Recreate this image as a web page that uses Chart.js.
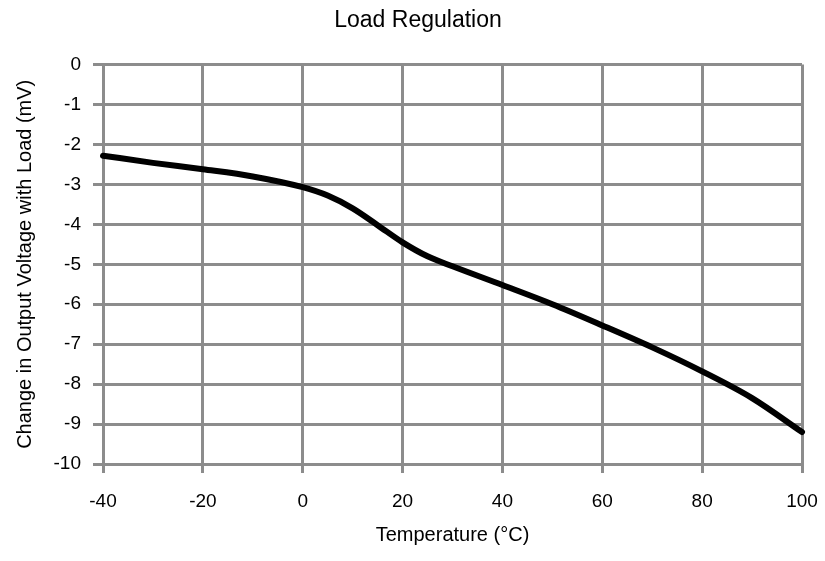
<!DOCTYPE html>
<html>
<head>
<meta charset="utf-8">
<script src="https://cdn.jsdelivr.net/npm/chart.js@4"></script>
<style>
  html, body { margin: 0; padding: 0; background: #fff; }
  #wrap { width: 825px; height: 561px; }
</style>
</head>
<body>
<div id="wrap"><canvas id="loadChart" width="825" height="561"></canvas></div>
<script>
// valeurs
const temperatures = [-40, -30, -20, -10, 0, 5, 10, 15, 20, 25, 30, 40, 50, 60, 70, 80, 90, 100];
const deltaVout = [-2.28, -2.46, -2.62, -2.8, -3.07, -3.28, -3.6, -4.02, -4.45, -4.8, -5.05, -5.52, -6.0, -6.53, -7.08, -7.68, -8.35, -9.2];

const xTicks = [-40, -20, 0, 20, 40, 60, 80, 100];
const yTicks = [0, -1, -2, -3, -4, -5, -6, -7, -8, -9, -10];

const gridColor = "#8c8c8c";
const fontFamily = "'Liberation Sans', Arial, sans-serif";

const points = temperatures.map((t, i) => ({ x: t, y: deltaVout[i] }));

const ctx = document.getElementById("loadChart").getContext("2d");

new Chart(ctx, {
  type: "line",
  data: {
    datasets: [
      {
        label: "Load Regulation",
        data: points,
        borderColor: "#000",
        borderWidth: 6,
        borderCapStyle: "round",
        borderJoinStyle: "round",
        cubicInterpolationMode: "monotone",
        pointRadius: 0,
        fill: false,
        clip: false,
      },
    ],
  },
  options: {
    responsive: false,
    animation: false,
    // marge gauche pour decaler le titre comme sur l'original
    layout: { padding: { left: 34, right: 23, top: 0, bottom: 0 } },
    scales: {
      x: {
        type: "linear",
        min: -40,
        max: 100,
        afterBuildTicks: (scale) => {
          scale.ticks = xTicks.map((v) => ({ value: v }));
        },
        afterFit: (scale) => {
          scale.height = 97;
          // pas de marge auto pour le label "100"
          scale.paddingLeft = 0;
          scale.paddingRight = 0;
        },
        ticks: {
          color: "#000",
          padding: 17,
          font: { family: fontFamily, size: 19 },
          maxRotation: 0,
        },
        grid: { color: gridColor, lineWidth: 3, tickLength: 9, tickColor: gridColor },
        border: { color: gridColor, width: 3 },
        title: {
          display: true,
          text: "Temperature (°C)",
          color: "#000",
          font: { family: fontFamily, size: 20 },
          padding: { top: 4, bottom: 14 },
        },
      },
      y: {
        type: "linear",
        min: -10,
        max: 0,
        afterBuildTicks: (scale) => {
          scale.ticks = yTicks.map((v) => ({ value: v }));
        },
        afterFit: (scale) => {
          scale.width = 69;
        },
        ticks: {
          color: "#000",
          padding: 12,
          font: { family: fontFamily, size: 19 },
        },
        grid: { color: gridColor, lineWidth: 3, tickLength: 10, tickColor: gridColor },
        border: { color: gridColor, width: 3 },
        title: {
          display: true,
          text: "Change in Output Voltage with Load (mV)",
          color: "#000",
          font: { family: fontFamily, size: 20 },
          padding: { top: -21, bottom: 0 },
        },
      },
    },
    plugins: {
      legend: { display: false },
      tooltip: { enabled: false },
      title: {
        display: true,
        text: "Load Regulation",
        color: "#000",
        font: { family: fontFamily, size: 23, weight: "normal" },
        padding: { top: 7, bottom: 30 },
      },
    },
  },
});
</script>
</body>
</html>
